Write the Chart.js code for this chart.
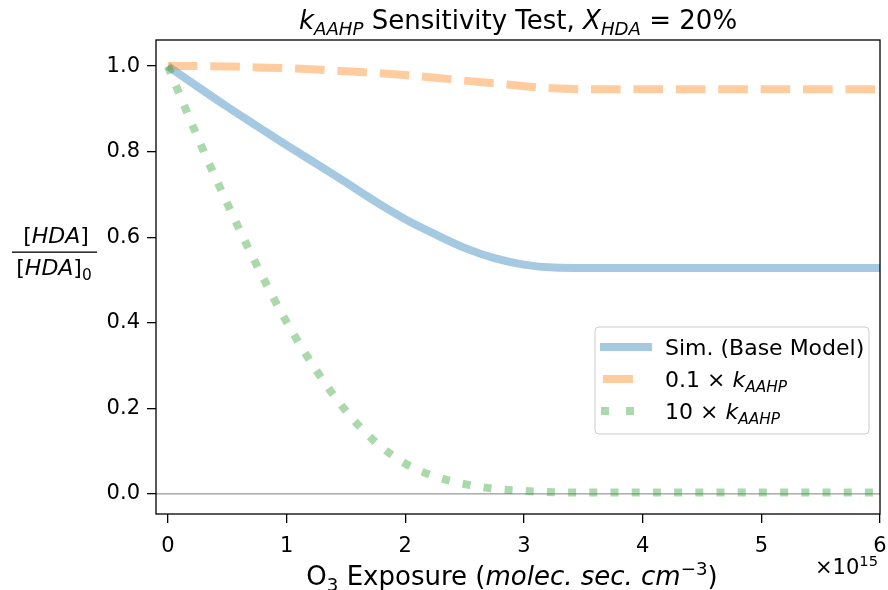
<!DOCTYPE html>
<html>
<head>
<meta charset="utf-8">
<script src="https://cdn.jsdelivr.net/npm/chart.js@4.4.0/dist/chart.umd.min.js"></script>
<style>
  body { margin: 0; background: #fff; }
  #wrap { width: 888px; height: 590px; }
</style>
</head>
<body>
<div id="wrap"><canvas id="Chart" width="888" height="590"></canvas></div>
<script>
// データ
const exposure = [0, 0.25, 0.5, 0.75, 1, 1.25, 1.5, 1.75, 2, 2.25, 2.5, 2.75, 3, 3.25, 3.5, 4, 4.5, 5, 5.5, 6];
const baseModel = [1.0, 0.952, 0.905, 0.86, 0.815, 0.772, 0.728, 0.683, 0.642, 0.607, 0.575, 0.551, 0.536, 0.529, 0.528, 0.528, 0.528, 0.528, 0.528, 0.528];
const lowK = [1.0, 1.0, 0.999, 0.997, 0.995, 0.992, 0.988, 0.984, 0.979, 0.973, 0.966, 0.96, 0.953, 0.948, 0.946, 0.946, 0.946, 0.946, 0.946, 0.946];
const highK = [1.0, 0.834, 0.679, 0.534, 0.402, 0.289, 0.194, 0.121, 0.071, 0.041, 0.023, 0.012, 0.007, 0.004, 0.003, 0.003, 0.003, 0.003, 0.003, 0.003];

const xTicks = [0, 1, 2, 3, 4, 5, 6];
const yTicks = [0.0, 0.2, 0.4, 0.6, 0.8, 1.0];

const FONT = "'DejaVu Sans', sans-serif";
const BLUE = 'rgba(31,119,180,0.4)';
const ORANGE = 'rgba(255,127,14,0.4)';
const GREEN = 'rgba(44,160,44,0.4)';

function toPoints(ys) {
  return exposure.map((x, i) => ({ x: x, y: ys[i] }));
}

// 斜体・添字付きテキストを描く
function drawRich(ctx, segs, x, y, align, size) {
  let total = 0;
  const parts = segs.map(s => {
    const sz = s.sub || s.sup ? size * 0.7 : size;
    const font = (s.it ? 'oblique ' : '') + sz + 'px ' + FONT;
    ctx.font = font;
    const w = ctx.measureText(s.t).width;
    total += w;
    return { t: s.t, font: font, w: w, dy: s.sub ? size * 0.22 : (s.sup ? -size * 0.38 : 0) };
  });
  let cx = align === 'center' ? x - total / 2 : (align === 'right' ? x - total : x);
  ctx.textBaseline = 'alphabetic';
  ctx.textAlign = 'left';
  parts.forEach(p => {
    ctx.font = p.font;
    ctx.fillText(p.t, cx, y + p.dy);
    cx += p.w;
  });
  return total;
}

const decorPlugin = {
  id: 'decor',
  beforeDatasetsDraw(chart) {
    const ctx = chart.ctx;
    const a = chart.chartArea;
    const y0 = chart.scales.y.getPixelForValue(0);
    ctx.save();
    ctx.strokeStyle = '#808080';
    ctx.lineWidth = 1;
    ctx.beginPath();
    ctx.moveTo(a.left, y0);
    ctx.lineTo(a.right, y0);
    ctx.stroke();
    ctx.restore();
  },
  afterDraw(chart) {
    const ctx = chart.ctx;
    const a = chart.chartArea;
    ctx.save();
    // 枠
    ctx.strokeStyle = '#000';
    ctx.lineWidth = 1.3;
    ctx.strokeRect(a.left, a.top, a.right - a.left, a.bottom - a.top);

    ctx.fillStyle = '#000';
    // タイトル
    drawRich(ctx, [
      { t: 'k', it: true }, { t: 'AAHP', it: true, sub: true },
      { t: ' Sensitivity Test, ' },
      { t: 'X', it: true }, { t: 'HDA', it: true, sub: true },
      { t: ' = 20%' }
    ], (a.left + a.right) / 2, 29, 'center', 26);

    // X軸ラベル
    drawRich(ctx, [
      { t: 'O' }, { t: '3', sub: true }, { t: ' Exposure (' },
      { t: 'molec. sec. cm', it: true }, { t: '\u22123', sup: true },
      { t: ')' }
    ], (a.left + a.right) / 2 - 6, 585, 'center', 26);
    drawRich(ctx, [{ t: '\u00d710' }, { t: '15', sup: true }], 878, 574, 'right', 21);

    // Y軸ラベル（分数）
    drawRich(ctx, [{ t: '[' }, { t: 'HDA', it: true }, { t: ']' }], 56, 243, 'center', 22);
    ctx.fillRect(12, 251.5, 85, 1.3);
    drawRich(ctx, [{ t: '[' }, { t: 'HDA', it: true }, { t: ']' }, { t: '0', sub: true }], 54, 275, 'center', 22);

    // 凡例
    const lx = 595, ly = 327, lw = 274, lh = 107;
    ctx.fillStyle = 'rgba(255,255,255,0.8)';
    ctx.strokeStyle = '#cccccc';
    ctx.lineWidth = 1;
    ctx.beginPath();
    ctx.roundRect(lx, ly, lw, lh, 4);
    ctx.fill();
    ctx.stroke();

    const rows = [
      { c: BLUE, dash: [], x0: 600, x1: 652, y: 347, segs: [{ t: 'Sim. (Base Model)' }] },
      { c: ORANGE, dash: [30, 13], x0: 603, x1: 635, y: 379, segs: [{ t: '0.1 \u00d7 ' }, { t: 'k', it: true }, { t: 'AAHP', it: true, sub: true }] },
      { c: GREEN, dash: [8, 17], x0: 601, x1: 634, y: 411, segs: [{ t: '10 \u00d7 ' }, { t: 'k', it: true }, { t: 'AAHP', it: true, sub: true }] }
    ];
    rows.forEach(r => {
      ctx.strokeStyle = r.c;
      ctx.lineWidth = 8;
      ctx.lineCap = 'butt';
      ctx.setLineDash(r.dash);
      ctx.beginPath();
      ctx.moveTo(r.x0, r.y);
      ctx.lineTo(r.x1, r.y);
      ctx.stroke();
      ctx.setLineDash([]);
      ctx.fillStyle = '#000';
      drawRich(ctx, r.segs, 665, r.y + 8, 'left', 22);
    });
    ctx.restore();
  }
};

const lineCtx = document.getElementById('Chart');
const lineConfig = {
  type: 'line',
  data: {
    datasets: [{
      label: 'Sim. (Base Model)',
      data: toPoints(baseModel),
      borderColor: BLUE,
      borderWidth: 8,
      order: 3
    }, {
      label: '0.1 × kAAHP',
      data: toPoints(lowK),
      borderColor: ORANGE,
      borderWidth: 8,
      borderDash: [29.6, 12.8],
      order: 2
    }, {
      label: '10 × kAAHP',
      data: toPoints(highK),
      borderColor: GREEN,
      borderWidth: 8,
      borderDash: [8, 13.2],
      order: 1
    }]
  },
  options: {
    responsive: false,
    animation: false,
    devicePixelRatio: 1,
    layout: { padding: { top: 40, right: 8, left: 0, bottom: 0 } },
    elements: {
      point: { radius: 0 },
      line: { cubicInterpolationMode: 'monotone', borderCapStyle: 'butt', fill: false }
    },
    plugins: { legend: { display: false }, tooltip: { enabled: false }, title: { display: false } },
    scales: {
      x: {
        type: 'linear',
        min: -0.1,
        max: 6,
        afterBuildTicks: s => { s.ticks = xTicks.map(v => ({ value: v })); },
        afterFit: s => { s.height = 76; s.paddingLeft = 0; s.paddingRight = 0; },
        ticks: { color: '#000', font: { family: FONT, size: 21 }, padding: 11, maxRotation: 0 },
        grid: { drawOnChartArea: false, color: '#000', tickLength: 9, lineWidth: 1.3 },
        border: { display: false }
      },
      y: {
        min: -0.047,
        max: 1.061,
        afterBuildTicks: s => { s.ticks = yTicks.map(v => ({ value: v })); },
        afterFit: s => { s.width = 156; s.paddingTop = 0; s.paddingBottom = 0; },
        ticks: { color: '#000', font: { family: FONT, size: 21 }, padding: 7, callback: v => v.toFixed(1) },
        grid: { drawOnChartArea: false, color: '#000', tickLength: 9, lineWidth: 1.3 },
        border: { display: false }
      }
    }
  },
  plugins: [decorPlugin]
};
const lineChart = new Chart(lineCtx, lineConfig);
</script>
</body>
</html>
